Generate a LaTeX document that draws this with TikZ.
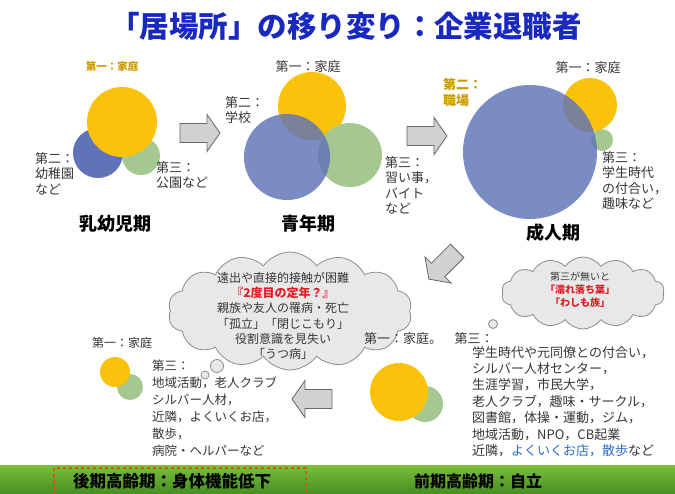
\documentclass[tikz,border=0pt]{standalone}
\usepackage{fontspec}
\setmainfont{Noto Sans CJK JP}
\usetikzlibrary{shapes.symbols}
\definecolor{cyel}{RGB}{250,194,10}
\definecolor{cblue}{RGB}{95,115,185}
\definecolor{cgreen}{RGB}{165,200,145}
\definecolor{cgold}{RGB}{205,155,0}
\definecolor{ctitle}{RGB}{25,40,190}
\definecolor{ctext}{RGB}{55,55,55}
\definecolor{cred}{RGB}{225,30,40}
\definecolor{clink}{RGB}{40,110,200}
\definecolor{bandtop}{RGB}{125,190,60}
\definecolor{bandbot}{RGB}{70,145,35}
\definecolor{cdash}{RGB}{215,85,20}
\tikzset{
  yel/.style={fill=cyel},
  blu/.style={fill=cblue, fill opacity=0.82},
  grn/.style={fill=cgreen},
  lbl/.style={text=ctext, font=\fontsize{13}{15.5}\selectfont, align=left, inner sep=0pt},
  small/.style={text=ctext, font=\fontsize{12}{15}\selectfont, align=left, inner sep=0pt},
  stagename/.style={text=black, font=\fontsize{18}{20}\selectfont\bfseries, inner sep=0pt},
  barrow/.style={fill=black!18, draw=black!60, line width=0.8pt},
  thought/.style={cloud, cloud puffs=14, cloud puff arc=110, cloud ignores aspect, draw=black!45, fill=black!9, line width=0.8pt},
  bubble/.style={circle, draw=black!45, fill=black!9, line width=0.8pt, inner sep=0pt},
  blockarrow/.pic={\draw[barrow] (-20,-9.5) -- (7,-9.5) -- (7,-18.5) -- (20,0) -- (7,18.5) -- (7,9.5) -- (-20,9.5) -- cycle;}
}
\begin{document}
\begin{tikzpicture}[x=1pt,y=-1pt]
\useasboundingbox (0,0) rectangle (675,493);
\fill[white] (0,0) rectangle (675,493);

% title
\node[text=ctitle, font=\fontsize{29.5}{32}\selectfont\bfseries, inner sep=0pt] (title) at (346,26) {「居場所」の移り変り：企業退職者};

% ---------- stage 1
\fill[cblue] (98,153) circle (25);
\fill[grn] (141,156) circle (19);
\fill[yel] (122,122) circle (35);
\node[text=cgold, font=\fontsize{10.5}{12}\selectfont\bfseries, inner sep=0pt] (s1a) at (112,66) {第一：家庭};
\node[lbl, anchor=north west] (s1b) at (35,152) {第二：\\幼稚園\\など};
\node[lbl, anchor=north west] (s1c) at (156,161) {第三：\\公園など};
\node[stagename] (s1n) at (115,224) {乳幼児期};

\pic at (200,133) {blockarrow};

% ---------- stage 2
\fill[yel] (312,106) circle (34);
\fill[grn] (350,155) circle (32);
\fill[blu] (287,157) circle (43);
\node[lbl] (s2a) at (308,67) {第一：家庭};
\node[lbl, anchor=north west] (s2b) at (225,96) {第二：\\学校};
\node[lbl, anchor=north west] (s2c) at (385,156) {第三：\\習い事，\\バイト\\など};
\node[stagename] (s2n) at (308,224) {青年期};

\pic at (427,136) {blockarrow};

% ---------- stage 3
\fill[grn] (602,140) circle (11);
\fill[yel] (590,105) circle (27);
\fill[blu] (530,152) circle (67);
\node[lbl] (s3a) at (588,68) {第一：家庭};
\node[text=cgold, font=\fontsize{13}{16}\selectfont\bfseries, align=left, inner sep=0pt, anchor=north west] (s3b) at (443,78) {第二：\\職場};
\node[lbl, anchor=north west] (s3c) at (602,151) {第三：\\学生時代\\の付合い，\\趣味など};
\node[stagename] (s3n) at (553,233) {成人期};

\pic[rotate=225] at (443,265) {blockarrow};

% ---------- cloud 1
\node[thought, minimum width=244pt, minimum height=118pt] (c1) at (290,311) {};
\node[bubble, minimum size=13pt] (c1b1) at (217,366) {};
\node[bubble, minimum size=8pt] (c1b2) at (205,375) {};
\node[text=ctext, font=\fontsize{12}{15.3}\selectfont, align=center, inner sep=0pt] (c1t) at (283,316)
 {遠出や直接的接触が困難\\
  \textcolor{cred}{\bfseries『2度目の定年？』}\\
  親族や友人の罹病・死亡\\
  「孤立」「閉じこもり」\\
  役割意識を見失い\\
  「うつ病」};

% ---------- cloud 2
\node[thought, minimum width=163pt, minimum height=72pt] (c2) at (583,293) {};
\node[bubble, minimum size=9pt] (c2b) at (493,324) {};
\node[text=ctext, font=\fontsize{10}{13}\selectfont, align=center, inner sep=0pt] (c2t) at (580,290)
 {第三が無いと\\
  \textcolor{cred}{\bfseries「濡れ落ち葉」}\\
  \textcolor{cred}{\bfseries「わしも族」}};

% ---------- lower left (later elderly)
\fill[grn] (130,387) circle (13);
\fill[yel] (115,372) circle (15);
\node[small] (llA) at (122,343) {第一：家庭};
\node[small, anchor=north west, font=\fontsize{12.5}{17}\selectfont] (llB) at (152,360)
 {第三：\\地域活動，老人クラブ\\シルバー人材，\\近隣，よくいくお店，\\散歩，\\病院・ヘルパーなど};

\pic[rotate=180] at (312,399) {blockarrow};

% ---------- lower right (early elderly)
\fill[grn] (425,404) circle (18);
\fill[yel] (399,392) circle (29);
\node[lbl] (lrA) at (403,339) {第一：家庭。};
\node[lbl] (lrB) at (474,339) {第三：};
\node[lbl, anchor=north west, font=\fontsize{13}{16.4}\selectfont] (lrC) at (472,346)
 {学生時代や元同僚との付合い，\\
  シルバー人材センター，\\
  生涯学習，市民大学，\\
  老人クラブ，趣味・サークル，\\
  図書館，体操・運動，ジム，\\
  地域活動，NPO，CB起業\\
  近隣，\textcolor{clink}{よくいくお店，散歩}など};

% ---------- bottom band
\shade[top color=bandtop, bottom color=bandbot] (0,465) rectangle (675,493);
\draw[cdash, dashed, line width=1.2pt] (54,468) rectangle (306,495);
\node[font=\fontsize{16.5}{18}\selectfont\bfseries, inner sep=0pt] (late) at (172,481) {後期高齢期：身体機能低下};
\node[font=\fontsize{16}{18}\selectfont\bfseries, inner sep=0pt] (early) at (478,481) {前期高齢期：自立};
\end{tikzpicture}
\end{document}
